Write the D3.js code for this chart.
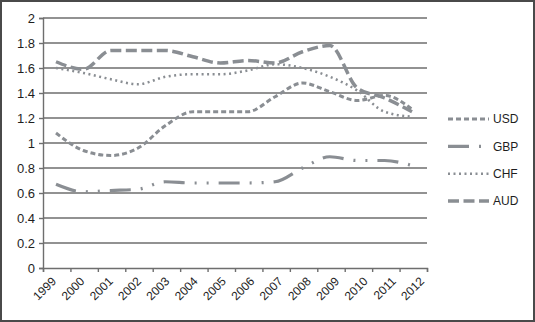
<!DOCTYPE html>
<html>
<head>
<meta charset="utf-8">
<script src="https://cdn.jsdelivr.net/npm/d3@7"></script>
<style>
    body { margin: 0; background: #fff; }
    text { font-family: "Liberation Sans", Arial, sans-serif; fill: #1e1e1e; }
</style>
</head>
<body>
<svg id="chart" width="535" height="322"></svg>
<script>
const years = ['1999', '2000', '2001', '2002', '2003', '2004', '2005', '2006', '2007', '2008', '2009', '2010', '2011', '2012'];
const usd = [1.08, 0.94, 0.90, 0.96, 1.14, 1.25, 1.25, 1.25, 1.37, 1.48, 1.41, 1.34, 1.38, 1.27];
const gbp = [0.67, 0.61, 0.62, 0.63, 0.69, 0.68, 0.68, 0.68, 0.69, 0.80, 0.89, 0.86, 0.86, 0.82];
const chf = [1.60, 1.56, 1.51, 1.47, 1.53, 1.55, 1.55, 1.58, 1.63, 1.60, 1.53, 1.42, 1.25, 1.21];
const aud = [1.65, 1.59, 1.74, 1.74, 1.74, 1.69, 1.64, 1.66, 1.64, 1.73, 1.78, 1.44, 1.36, 1.25];
const seriesNames = ['USD', 'GBP', 'CHF', 'AUD'];
const yTicks = [0, 0.2, 0.4, 0.6, 0.8, 1, 1.2, 1.4, 1.6, 1.8, 2];

class CurrencyChart {
    constructor() {
        this.svg = d3.select('#chart');
        this.PLOT = {left: 43, right: 427, top: 18, bottom: 268};
        this.LINE_COLOR = '#8a8e93';

        this.series = [
            {name: 'USD', values: usd, dash: '5,3', width: 3},
            {name: 'GBP', values: gbp, dash: '21,10,2,10,2,10', width: 3.2},
            {name: 'CHF', values: chf, dash: '2,3.5', width: 2.5},
            {name: 'AUD', values: aud, dash: '11,4.5', width: 3.5}
        ];

        // data sits on the category centres, labels end slightly right of them
        this.xScale = d3.scalePoint().domain(years).range([56, 412]);
        this.xLabelScale = d3.scalePoint().domain(years).range([57, 425]);
        this.xEdgeScale = d3.scaleLinear().domain([0, years.length]).range([this.PLOT.left, this.PLOT.right]);
        this.yScale = d3.scaleLinear().domain([0, 2]).range([this.PLOT.bottom, this.PLOT.top]);

        this.drawChart();
    }

    drawChart() {
        this.svg.append('rect')
            .attr('x', 1).attr('y', 1).attr('width', 533).attr('height', 320)
            .attr('fill', 'none').attr('stroke', '#4a4a4a').attr('stroke-width', 2);

        this.drawAxis();
        this.drawLines();
        this.drawLegend();
    }

    drawAxis() {
        // gridlines
        this.svg.append('g')
            .selectAll('line')
            .data(yTicks.filter(d => d > 0))
            .join('line')
            .attr('x1', this.PLOT.left).attr('x2', this.PLOT.right)
            .attr('y1', d => this.yScale(d)).attr('y2', d => this.yScale(d))
            .attr('stroke', '#6e6e6e').attr('stroke-width', 1.4);

        let yAxis = d3.axisLeft(this.yScale)
            .tickValues(yTicks)
            .tickSize(4)
            .tickPadding(4)
            .tickFormat(d3.format(''));
        let yG = this.svg.append('g')
            .attr('transform', `translate(${this.PLOT.left}, 0)`)
            .call(yAxis);
        yG.select('.domain').attr('stroke', '#6e6e6e').attr('stroke-width', 1.4);
        yG.selectAll('.tick line').attr('stroke', '#6e6e6e').attr('stroke-width', 1.4);
        yG.selectAll('.tick text')
            .attr('font-size', 13).attr('fill', '#1e1e1e')
            .attr('font-family', '"Liberation Sans", Arial, sans-serif');

        let xAxis = d3.axisBottom(this.xEdgeScale)
            .ticks(years.length)
            .tickSize(4)
            .tickSizeOuter(4)
            .tickFormat('');
        let xG = this.svg.append('g')
            .attr('transform', `translate(0, ${this.PLOT.bottom})`)
            .call(xAxis);
        xG.select('.domain').attr('stroke', '#6e6e6e').attr('stroke-width', 1.4);
        xG.selectAll('.tick line').attr('stroke', '#6e6e6e').attr('stroke-width', 1.4);

        this.svg.append('g')
            .selectAll('text')
            .data(years)
            .join('text')
            .attr('transform', d => `translate(${this.xLabelScale(d)}, 282) rotate(-45)`)
            .attr('text-anchor', 'end')
            .attr('font-size', 12)
            .text(d => d);
    }

    drawLines() {
        let line = d3.line()
            .x((d, i) => this.xScale(years[i]))
            .y(d => this.yScale(d))
            .curve(d3.curveMonotoneX);

        this.svg.append('g')
            .selectAll('path')
            .data(this.series)
            .join('path')
            .attr('d', d => line(d.values))
            .attr('fill', 'none')
            .attr('stroke', this.LINE_COLOR)
            .attr('stroke-width', d => d.width)
            .attr('stroke-dasharray', d => d.dash);
    }

    drawLegend() {
        let legendY = d3.scalePoint().domain(seriesNames).range([119, 201]);
        let g = this.svg.append('g')
            .selectAll('g')
            .data(this.series)
            .join('g')
            .attr('transform', d => `translate(448, ${legendY(d.name)})`);

        g.append('line')
            .attr('x1', 0).attr('x2', 41)
            .attr('stroke', this.LINE_COLOR)
            .attr('stroke-width', d => d.width)
            .attr('stroke-dasharray', d => d.dash);

        g.append('text')
            .attr('x', 45)
            .attr('dy', '0.36em')
            .attr('font-size', 12)
            .text(d => d.name);
    }
}

new CurrencyChart();
</script>
</body>
</html>
